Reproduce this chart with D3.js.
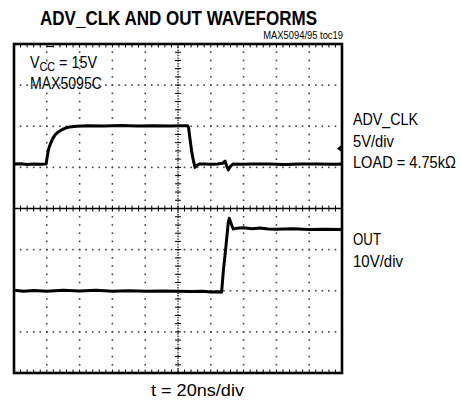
<!DOCTYPE html>
<html><head><meta charset="utf-8">
<script src="https://cdn.jsdelivr.net/npm/d3@7"></script>
<style>body{margin:0;background:#fff}svg{display:block}</style>
</head><body><svg id="c" width="461" height="404"></svg>
<script>
// ---------- data ----------
const title = "ADV_CLK AND OUT WAVEFORMS";
const docRef = "MAX5094/95 toc19";
const vccLabel = ["V", "CC", " = 15V"];
const partLabel = "MAX5095C";
const advLabels = ["ADV_CLK", "5V/div", "LOAD = 4.75k\u03A9"];
const outLabels = ["OUT", "10V/div"];
const timeLabel = "t = 20ns/div";
const timeDomainNs = [0, 200];      // 10 div x 20 ns/div
const divDomain = [-4, 4];          // 8 vertical divisions
const advVoltsPerDiv = 5, advGroundDiv = 1;
const outVoltsPerDiv = 10, outGroundDiv = -2;
const triggerTimeNs = 21.8, triggerLevelV = 2.3;

const advTimeNs = [0, 4, 8, 12, 16, 19.6, 20.4, 21.2, 22.4, 23.6, 25, 27, 29, 31, 34, 38, 45, 55, 65, 75, 85, 95, 102, 105.8, 106.4, 107.3, 108.3, 109.3, 110.4, 111.5, 113, 116, 120, 124, 127.2, 128.7, 129.6, 130.7, 131.8, 133.5, 138, 145, 155, 165, 175, 185, 195, 200];
const advVolts  = [0.4, 0.45, 0.35, 0.42, 0.38, 0.4, 1.5, 2.3, 2.96, 3.5, 3.94, 4.3, 4.55, 4.75, 4.92, 5.0, 5.05, 5.02, 5.08, 5.04, 5.06, 5.03, 5.05, 5.05, 4.9, 3.5, 2.0, 0.9, 0.0, 0.25, 0.4, 0.42, 0.38, 0.4, 0.5, 0.75, 0.2, -0.3, 0.1, 0.4, 0.38, 0.42, 0.4, 0.36, 0.4, 0.42, 0.38, 0.4];

const outTimeNs = [0, 6, 12, 20, 30, 40, 50, 60, 70, 80, 90, 100, 108, 115, 120, 124, 126.6, 127.6, 129.3, 130.7, 131.3, 132.7, 133.7, 135.8, 140, 145, 150, 155, 160, 170, 180, 190, 200];
const outVolts  = [0.1, -0.1, 0.05, -0.1, 0.1, -0.05, 0.15, -0.1, 0.0, -0.1, -0.05, -0.15, -0.2, -0.1, -0.3, -0.25, -0.35, 4.6, 11.1, 16.8, 17.6, 16.0, 15.0, 15.2, 15.3, 15.1, 15.25, 15.0, 14.95, 15.05, 14.9, 14.95, 14.9];

// ---------- layout ----------
const L = 14, R = 342, T = 44, B = 373;
const FONT = "'Liberation Sans',Arial,'Noto Sans',sans-serif";
const svg = d3.select("#c");
const x = d3.scaleLinear().domain(timeDomainNs).range([L, R]);
const y = d3.scaleLinear().domain(divDomain).range([B, T]);
const xMinor = d3.range(timeDomainNs[0], timeDomainNs[1] + 0.001, 4);
const yMinor = d3.range(divDomain[0], divDomain[1] + 0.001, 0.2);
const xMajor = d3.range(20, 200, 20).filter(t => t !== 100);
const yMajor = [-3, -2, -1, 1, 2, 3];

const g = svg.append("g");
// dotted grid
xMajor.forEach(t => {
  g.selectAll(null).data(yMinor.slice(1, -1)).enter().append("rect")
    .attr("x", x(t) - 0.8).attr("y", d => y(d) - 0.8).attr("width", 1.6).attr("height", 1.6).attr("fill", "#444");
});
yMajor.forEach(dv => {
  g.selectAll(null).data(xMinor.slice(1, -1)).enter().append("rect")
    .attr("x", d => x(d) - 0.8).attr("y", y(dv) - 0.8).attr("width", 1.6).attr("height", 1.6).attr("fill", "#444");
});
// center axes with ticks
g.append("line").attr("x1", L).attr("x2", R).attr("y1", y(0)).attr("y2", y(0)).attr("stroke", "#000").attr("stroke-width", 1.4);
g.selectAll(null).data(xMinor).enter().append("line")
  .attr("x1", d => x(d)).attr("x2", d => x(d)).attr("y1", y(0) - 3).attr("y2", y(0) + 3).attr("stroke", "#000").attr("stroke-width", 1);
g.append("line").attr("x1", x(100)).attr("x2", x(100)).attr("y1", T).attr("y2", B).attr("stroke", "#222").attr("stroke-width", 1.3).attr("stroke-dasharray", "1.5,1.2");
g.selectAll(null).data(yMinor).enter().append("line")
  .attr("x1", x(100) - 3).attr("x2", x(100) + 3).attr("y1", d => y(d)).attr("y2", d => y(d)).attr("stroke", "#000").attr("stroke-width", 1);
// edge ticks top / bottom
g.selectAll(null).data(xMinor).enter().append("line")
  .attr("x1", d => x(d)).attr("x2", d => x(d)).attr("y1", T).attr("y2", T + 3.5).attr("stroke", "#000").attr("stroke-width", 1);
g.selectAll(null).data(xMinor).enter().append("line")
  .attr("x1", d => x(d)).attr("x2", d => x(d)).attr("y1", B).attr("y2", B - 3.5).attr("stroke", "#000").attr("stroke-width", 1);

// traces
const advLine = d3.line().x((d, i) => x(advTimeNs[i])).y(d => y(advGroundDiv + d / advVoltsPerDiv));
const outLine = d3.line().x((d, i) => x(outTimeNs[i])).y(d => y(outGroundDiv + d / outVoltsPerDiv));
g.append("path").attr("d", advLine(advVolts)).attr("fill", "none").attr("stroke", "#000").attr("stroke-width", 3).attr("stroke-linejoin", "round");
g.append("path").attr("d", outLine(outVolts)).attr("fill", "none").attr("stroke", "#000").attr("stroke-width", 3).attr("stroke-linejoin", "round");

// frame
g.append("rect").attr("x", L).attr("y", T).attr("width", R - L).attr("height", B - T).attr("fill", "none").attr("stroke", "#000").attr("stroke-width", 2.6);

// trigger markers
const ty = y(advGroundDiv + triggerLevelV / advVoltsPerDiv);
g.append("path").attr("d", `M${R},${ty - 4}L${R - 5},${ty}L${R},${ty + 4}Z`).attr("fill", "#000");
const tx = x(triggerTimeNs);
g.append("line").attr("x1", tx - 3).attr("x2", tx + 3).attr("y1", T + 2.5).attr("y2", T + 2.5).attr("stroke", "#000").attr("stroke-width", 1.2);

// texts: condensed by horizontal scaling to the measured width
function label(s, xp, yp, size, width, anchor, bold) {
  const t = svg.append("text").attr("x", 0).attr("y", 0).attr("text-anchor", anchor || "start")
    .attr("font-family", FONT).attr("font-size", size).attr("font-weight", bold ? "bold" : "normal");
  if (Array.isArray(s)) {
    t.append("tspan").text(s[0]);
    t.append("tspan").attr("font-size", size * 0.75).attr("dy", 3).text(s[1]);
    t.append("tspan").attr("dy", -3).text(s[2]);
  } else t.text(s);
  const natural = t.node().getComputedTextLength();
  t.attr("transform", `translate(${xp},${yp}) scale(${width / natural},1)`);
  return t;
}
label(title, 178.5, 25, 21, 277, "middle", true);
label(docRef, 343, 39, 10, 80, "end");
label(vccLabel, 30, 68, 16, 67);
label(partLabel, 30, 89, 16, 72);

const advY = [125, 146.5, 168], advW = [65, 41, 103];
advLabels.forEach((s, i) => label(s, 353, advY[i], 16, advW[i]));
const outY = [245, 266.5], outW = [28, 50];
outLabels.forEach((s, i) => label(s, 353, outY[i], 16, outW[i]));

label(timeLabel, 151, 396, 16, 93);
</script></body></html>
